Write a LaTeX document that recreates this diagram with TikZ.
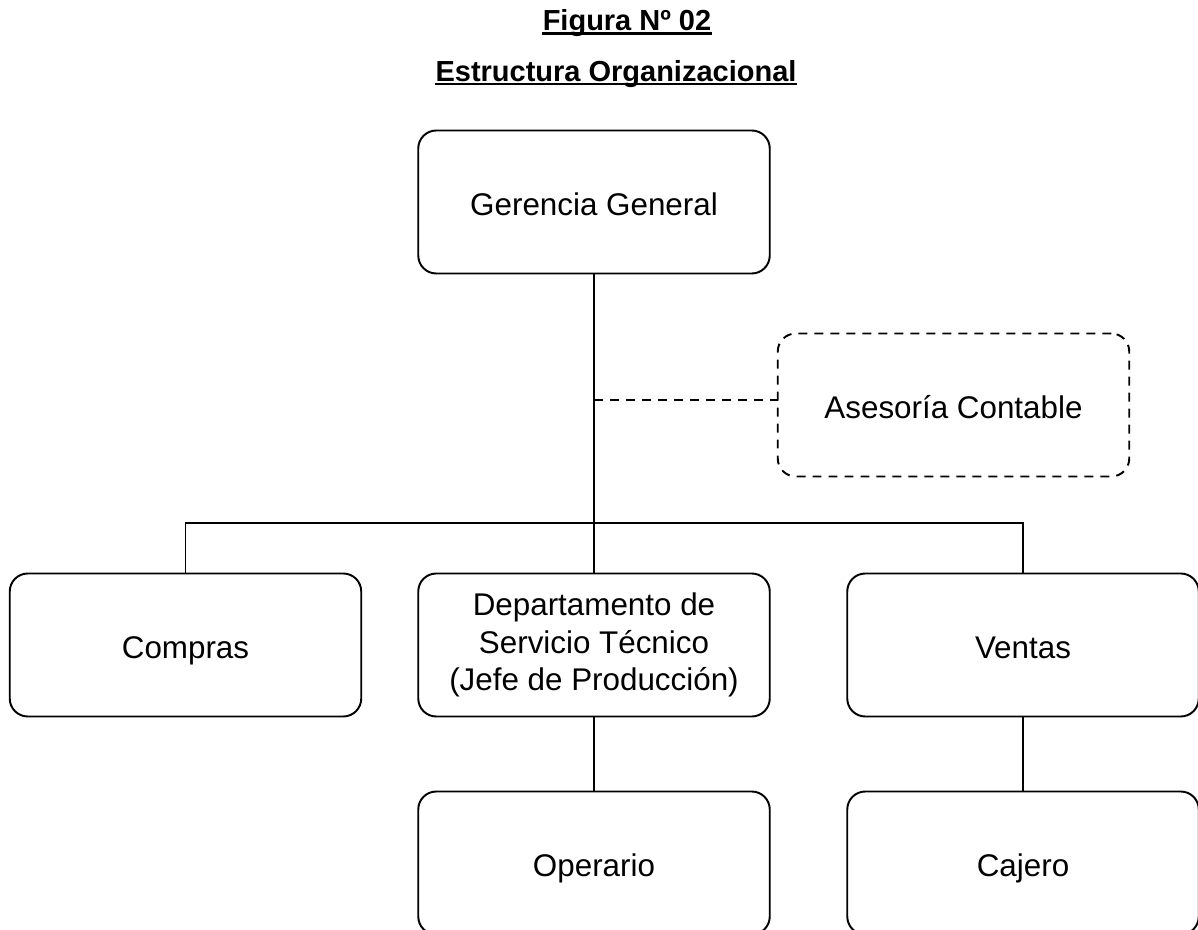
\documentclass[tikz,border=0pt]{standalone}
\usepackage{fontspec}
\setmainfont{Liberation Sans}
\usetikzlibrary{positioning}
\tikzset{
  box/.style={draw, line width=1.1pt, rounded corners=0.36cm, outer sep=0pt,
              align=center, minimum width=7.03cm, minimum height=2.86cm,
              font=\fontsize{17.85}{21.4}\selectfont},
  oneline/.style={text height=15.6pt, text depth=0pt},
  dbox/.style={box, dash pattern=on 5.1pt off 4pt},
  link/.style={line width=0.85pt},
  dlink/.style={line width=1.1pt, dash pattern=on 5.1pt off 4pt},
  title/.style={inner sep=0pt, anchor=base, font=\fontsize{16.5}{19.8}\selectfont\bfseries},
  uline/.style={line width=1.6pt},
}
\begin{document}
\begin{tikzpicture}
  \useasboundingbox (0,0) rectangle (23.96,-18.6);

  % ---- Heading ----
  \node[title] (fig) at (12.54,-0.62) {Figura Nº 02};
  \node[title] (est) at (12.32,-1.63) {Estructura Organizacional};
  \draw[uline] ([yshift=-0.05cm]fig.base west) -- ([yshift=-0.05cm]fig.base east);
  \draw[uline] ([yshift=-0.05cm]est.base west) -- ([yshift=-0.05cm]est.base east);

  % ---- Boxes ----
  \node[box, oneline] (gg) at (11.88,-4.04) {Gerencia General};
  \node[dbox, oneline, below right=1.2cm and 0.16cm of gg] (ac) {Asesoría Contable};
  \node[box, below=6cm of gg] (dep)
    {Departamento de\\Servicio Técnico\\(Jefe de Producción)};
  \node[box, oneline, left=1.14cm of dep] (com) {Compras};
  \node[box, oneline, right=1.55cm of dep] (ven) {Ventas};
  \node[box, oneline, below=1.5cm of dep] (ope) {Operario};
  \node[box, oneline, below=1.5cm of ven] (caj) {Cajero};

  % ---- Lines ----
  \coordinate (split) at (11.88,-10.46);
  \coordinate (tap) at (11.88,-8.0);
  \draw[link] (gg) -- (dep);
  \draw[link] (com.north) |- (split) -| (ven.north);
  \draw[dlink] (tap) -- (tap -| ac.west);
  \draw[link] (dep) -- (ope);
  \draw[link] (ven) -- (caj);
\end{tikzpicture}
\end{document}
